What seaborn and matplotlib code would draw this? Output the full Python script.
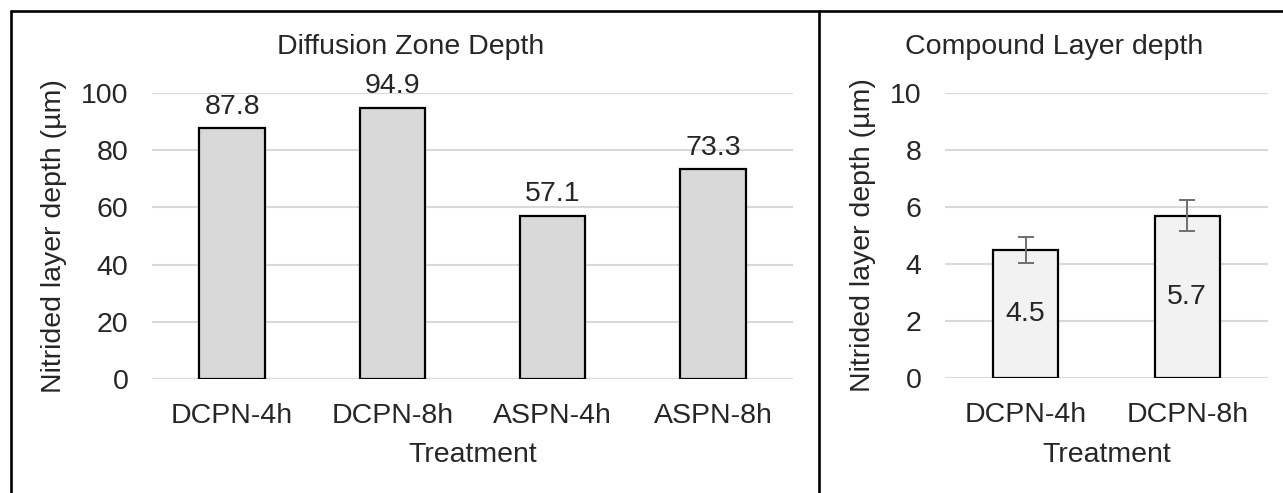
import matplotlib
matplotlib.use("Agg")
import matplotlib.pyplot as plt
import seaborn as sns
import pandas as pd
from matplotlib.lines import Line2D

# Data
diff_treatments = ["DCPN-4h", "DCPN-8h", "ASPN-4h", "ASPN-8h"]
diff_depth = [87.8, 94.9, 57.1, 73.3]
comp_treatments = ["DCPN-4h", "DCPN-8h"]
comp_depth = [4.5, 5.7]
comp_err = [0.46, 0.53]

sns.set_theme(style="white")
plt.rcParams['font.family'] = ['Liberation Sans', 'DejaVu Sans']

FS = 20.5
W, H = 1283, 493
fig = plt.figure(figsize=(W / 100, H / 100), dpi=100)

def fx(px):
    return px / W

def fy(py):
    return 1 - py / H

ax1 = fig.add_axes([fx(152), fy(379), fx(793) - fx(152), fy(93) - fy(379)])
ax2 = fig.add_axes([fx(945), fy(378), fx(1268) - fx(945), fy(93) - fy(378)])

df1 = pd.DataFrame({"Treatment": diff_treatments, "Depth": diff_depth})
df2 = pd.DataFrame({"Treatment": comp_treatments, "Depth": comp_depth})

sns.barplot(data=df1, x="Treatment", y="Depth", ax=ax1, color="#d9d9d9",
            edgecolor="black", linewidth=1.6, width=0.41, saturation=1, errorbar=None)
sns.barplot(data=df2, x="Treatment", y="Depth", ax=ax2, color="#f2f2f2",
            edgecolor="black", linewidth=1.6, width=0.40, saturation=1, errorbar=None)

ax2.errorbar(range(len(comp_depth)), comp_depth, yerr=comp_err, fmt="none",
             ecolor="#6f6f6f", elinewidth=1.4, capsize=5.5, capthick=1.4, zorder=5)

ax1.bar_label(ax1.containers[0], labels=[f"{v:.1f}" for v in diff_depth],
              padding=6, fontsize=FS, color="#262626")
ax2.bar_label(ax2.containers[0], labels=[f"{v:.1f}" for v in comp_depth],
              label_type="center", fontsize=FS, color="#262626")

ax1.set_xlim(-0.5, len(diff_depth) - 0.5)
ax2.set_xlim(-0.5, len(comp_depth) - 0.5)

for ax, top, step in [(ax1, 100, 20), (ax2, 10, 2)]:
    ax.set_ylim(0, top)
    ax.set_yticks(list(range(0, top + 1, step)))
    ax.yaxis.grid(True, color="#d9d9d9", linewidth=1.5)
    ax.set_axisbelow(True)
    for s in ax.spines.values():
        s.set_visible(False)
    ax.tick_params(axis="y", length=0, pad=17, labelsize=FS, labelcolor="#262626")
    ax.tick_params(axis="x", length=0, pad=17, labelsize=FS, labelcolor="#262626")
    ax.set_xlabel("Treatment", fontsize=FS, color="#262626", labelpad=10)
    ax.set_ylabel("Nitrided layer depth (µm)", fontsize=FS, color="#262626", labelpad=10)
    ax.set_facecolor("white")

ax1.set_title("Diffusion Zone Depth", fontsize=FS, color="#262626",
              x=(411 - 152) / (793 - 152), pad=28)
ax2.set_title("Compound Layer depth", fontsize=FS, color="#262626",
              x=(1054 - 945) / (1268 - 945), pad=28)

# panel borders
lw = 1.9
fig.add_artist(Line2D([fx(11), 1.0], [fy(11), fy(11)], color="black", lw=lw))
fig.add_artist(Line2D([fx(11), fx(11)], [fy(11), 0], color="black", lw=lw))
fig.add_artist(Line2D([fx(819), fx(819)], [fy(11), 0], color="black", lw=lw))

fig.savefig("out.png", dpi=100, facecolor="white")
